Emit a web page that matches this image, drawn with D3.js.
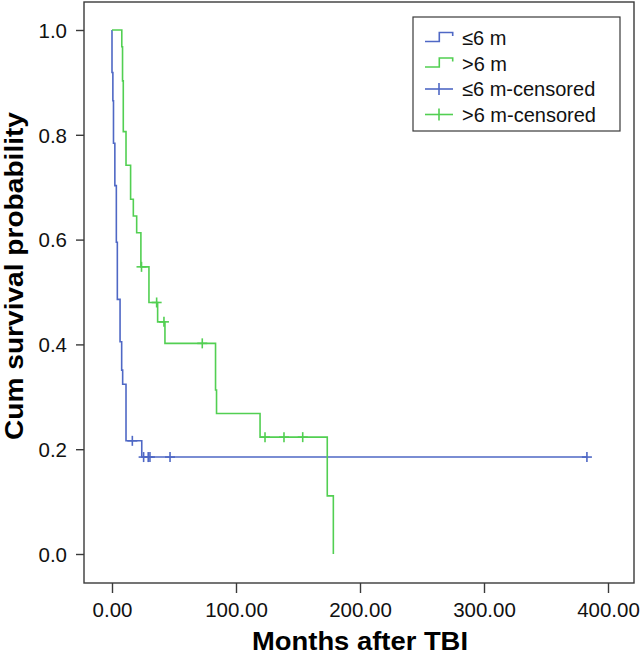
<!DOCTYPE html>
<html>
<head>
<meta charset="utf-8">
<script src="https://cdn.jsdelivr.net/npm/d3@7"></script>
<style>
  html, body { margin: 0; padding: 0; background: #fff; }
  svg { display: block; font-family: "Liberation Sans", Arial, sans-serif; }
</style>
</head>
<body>
<svg id="chart" width="640" height="655"></svg>
<script>
// ---- Data ----
const xTicks = [0, 100, 200, 300, 400];
const yTicks = [0, 0.2, 0.4, 0.6, 0.8, 1.0];

// Group "≤6 m": event times (months) and survival after each event
const blueTimes = [0, 0.7, 1.2, 2.3, 3.5, 4.3, 6.5, 7.8, 8.6, 11.3, 24.0];
const blueSurv  = [0.919, 0.865, 0.784, 0.703, 0.595, 0.486, 0.405, 0.351, 0.324, 0.216, 0.185];
const blueCensored = [16.4, 25.5, 29.2, 30.6, 46.8, 383];

// Group ">6 m"
const greenTimes = [7.9, 8.5, 9.1, 11.3, 15.0, 17.2, 19.9, 23.3, 29.8, 36.8, 42.7, 83.5, 84.3, 119.4, 173.6, 178.5];
const greenSurv  = [0.968, 0.903, 0.806, 0.742, 0.677, 0.645, 0.613, 0.548, 0.480, 0.443, 0.402, 0.313, 0.268, 0.223, 0.111, 0.0];
const greenCensored = [23.8, 36.0, 41.9, 72.8, 123.4, 138.7, 153.8];

const legendLabels = ["≤6 m", ">6 m", "≤6 m-censored", ">6 m-censored"];
const seriesColors = ["#4f68c5", "#52cf52"];

// ---- Layout ----
const svg = d3.select("#chart");
const frame = { left: 84, right: 634, top: 2, bottom: 583 };
const x = d3.scaleLinear().domain([0, 400]).range([112, 608]);
const y = d3.scaleLinear().domain([0, 1]).range([554, 30]);
const FONT = '"Liberation Sans", Arial, sans-serif';

// frame
svg.append("rect")
  .attr("x", frame.left).attr("y", frame.top)
  .attr("width", frame.right - frame.left).attr("height", frame.bottom - frame.top)
  .attr("fill", "none").attr("stroke", "#3a3a3a").attr("stroke-width", 1.4);

// x axis
const xAxis = svg.append("g").attr("transform", `translate(0,${frame.bottom})`)
  .call(d3.axisBottom(x).tickValues(xTicks).tickFormat(d3.format(".2f")).tickSize(10).tickSizeOuter(0));
xAxis.select(".domain").remove();
xAxis.selectAll(".tick line").attr("stroke", "#3a3a3a").attr("stroke-width", 1.4);
xAxis.selectAll(".tick text").attr("y", 34).attr("dy", null)
  .attr("font-size", 20.5).attr("font-family", FONT).attr("fill", "#111");

// y axis
const yAxis = svg.append("g").attr("transform", `translate(${frame.left},0)`)
  .call(d3.axisLeft(y).tickValues(yTicks).tickFormat(d3.format(".1f")).tickSize(8).tickSizeOuter(0));
yAxis.select(".domain").remove();
yAxis.selectAll(".tick line").attr("stroke", "#3a3a3a").attr("stroke-width", 1.4);
yAxis.selectAll(".tick text").attr("x", -17).attr("dy", "0.36em")
  .attr("font-size", 20.5).attr("font-family", FONT).attr("fill", "#111");

// axis titles
svg.append("text")
  .attr("x", 360).attr("y", 650).attr("text-anchor", "middle")
  .attr("font-size", 26).attr("font-weight", "bold").attr("font-family", FONT)
  .attr("textLength", 216).attr("lengthAdjust", "spacingAndGlyphs")
  .text("Months after TBI");
svg.append("text")
  .attr("transform", "translate(23,276) rotate(-90)").attr("text-anchor", "middle")
  .attr("font-size", 25).attr("font-weight", "bold").attr("font-family", FONT)
  .attr("textLength", 328).attr("lengthAdjust", "spacingAndGlyphs")
  .text("Cum survival probability");

// ---- curves ----
function stepPoints(times, surv, endTime) {
  const pts = [[0, 1]];
  times.forEach((t, i) => pts.push([t, surv[i]]));
  const last = pts[pts.length - 1];
  if (endTime > last[0]) pts.push([endTime, last[1]]);
  return pts;
}
function survAt(times, surv, t) {
  let s = 1;
  times.forEach((tt, i) => { if (tt <= t) s = surv[i]; });
  return s;
}
const line = d3.line().x(d => x(d[0])).y(d => y(d[1])).curve(d3.curveStepAfter);

const series = [
  { times: blueTimes, surv: blueSurv, cens: blueCensored, color: seriesColors[0] },
  { times: greenTimes, surv: greenSurv, cens: greenCensored, color: seriesColors[1] }
];
series.forEach(s => {
  const end = Math.max(d3.max(s.times), d3.max(s.cens));
  svg.append("path").datum(stepPoints(s.times, s.surv, end))
    .attr("d", line).attr("fill", "none")
    .attr("stroke", s.color).attr("stroke-width", 1.6);
  const g = svg.append("g");
  s.cens.forEach(t => {
    const cx = x(t), cy = y(survAt(s.times, s.surv, t));
    g.append("line").attr("x1", cx - 5).attr("x2", cx + 5).attr("y1", cy).attr("y2", cy)
      .attr("stroke", s.color).attr("stroke-width", 1.6);
    g.append("line").attr("x1", cx).attr("x2", cx).attr("y1", cy - 5).attr("y2", cy + 5)
      .attr("stroke", s.color).attr("stroke-width", 1.6);
  });
});

// ---- legend ----
const lg = svg.append("g");
lg.append("rect").attr("x", 413).attr("y", 17).attr("width", 207).attr("height", 114)
  .attr("fill", "#fff").attr("stroke", "#3a3a3a").attr("stroke-width", 1.2);
const rowBase = [45, 70.5, 96, 121.5];
legendLabels.forEach((lab, i) => {
  const col = seriesColors[i % 2];
  const b = rowBase[i];
  if (i < 2) {
    lg.append("path")
      .attr("d", `M425,${b - 3.5}H439.3V${b - 12.5}H452.7V${b - 9}`)
      .attr("fill", "none").attr("stroke", col).attr("stroke-width", 1.6);
  } else {
    lg.append("line").attr("x1", 425).attr("x2", 453).attr("y1", b - 7).attr("y2", b - 7)
      .attr("stroke", col).attr("stroke-width", 1.6);
    lg.append("line").attr("x1", 439).attr("x2", 439).attr("y1", b - 13).attr("y2", b - 1)
      .attr("stroke", col).attr("stroke-width", 1.6);
  }
  lg.append("text").attr("x", 462).attr("y", b)
    .attr("font-size", 20).attr("font-family", FONT).attr("fill", "#111")
    .text(lab);
});
</script>
</body>
</html>
